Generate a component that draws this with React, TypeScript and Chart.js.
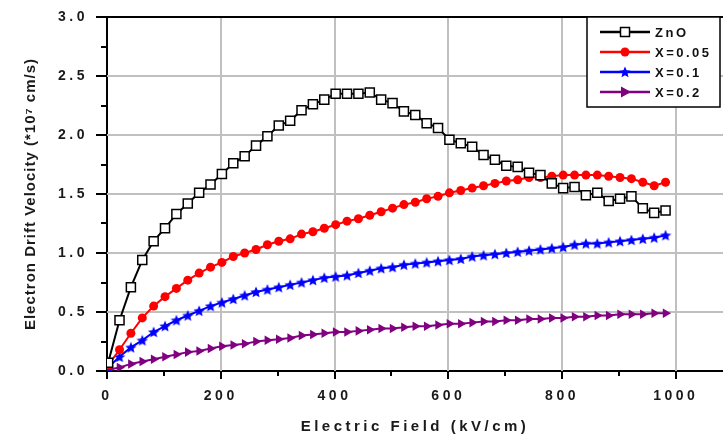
import React, { useEffect, useRef } from 'react';
import { Chart, registerables } from 'chart.js';

Chart.register(...registerables);

// ---- data ----
const fieldValues = [
  2, 22, 42, 62, 82, 102, 122, 142, 162, 182,
  202, 222, 242, 262, 282, 302, 322, 342, 362, 382,
  402, 422, 442, 462, 482, 502, 522, 542, 562, 582,
  602, 622, 642, 662, 682, 702, 722, 742, 762, 782,
  802, 822, 842, 862, 882, 902, 922, 942, 962, 982,
];
const znoValues = [
  0.07, 0.43, 0.71, 0.94, 1.10, 1.21, 1.33, 1.42, 1.51, 1.58,
  1.67, 1.76, 1.82, 1.91, 1.99, 2.08, 2.12, 2.21, 2.26, 2.30,
  2.35, 2.35, 2.35, 2.36, 2.30, 2.27, 2.20, 2.17, 2.10, 2.06,
  1.96, 1.93, 1.90, 1.83, 1.79, 1.74, 1.73, 1.68, 1.66, 1.59,
  1.55, 1.56, 1.49, 1.51, 1.44, 1.46, 1.48, 1.38, 1.34, 1.36,
];
const x005Values = [
  0.05, 0.18, 0.32, 0.45, 0.55, 0.63, 0.70, 0.77, 0.83, 0.88,
  0.92, 0.97, 1.00, 1.03, 1.07, 1.10, 1.12, 1.16, 1.18, 1.21,
  1.24, 1.27, 1.29, 1.32, 1.35, 1.38, 1.41, 1.43, 1.46, 1.48,
  1.51, 1.53, 1.55, 1.57, 1.59, 1.61, 1.62, 1.64, 1.64, 1.65,
  1.66, 1.66, 1.66, 1.66, 1.65, 1.64, 1.63, 1.60, 1.57, 1.60,
];
const x01Values = [
  0.03, 0.12, 0.20, 0.26, 0.33, 0.38, 0.43, 0.47, 0.51, 0.55,
  0.58, 0.61, 0.64, 0.67, 0.69, 0.71, 0.73, 0.75, 0.77, 0.79,
  0.80, 0.81, 0.83, 0.85, 0.87, 0.88, 0.90, 0.91, 0.92, 0.93,
  0.94, 0.95, 0.97, 0.98, 0.99, 1.00, 1.01, 1.02, 1.03, 1.04,
  1.05, 1.07, 1.08, 1.08, 1.09, 1.10, 1.11, 1.12, 1.13, 1.15,
];
const x02Values = [
  0.01, 0.03, 0.06, 0.08, 0.10, 0.12, 0.14, 0.16, 0.17, 0.19,
  0.21, 0.22, 0.23, 0.25, 0.26, 0.27, 0.28, 0.30, 0.31, 0.32,
  0.33, 0.33, 0.34, 0.35, 0.36, 0.36, 0.37, 0.38, 0.38, 0.39,
  0.40, 0.40, 0.41, 0.42, 0.42, 0.43, 0.43, 0.44, 0.44, 0.45,
  0.45, 0.46, 0.46, 0.47, 0.47, 0.48, 0.48, 0.48, 0.49, 0.49,
];
const seriesLabels = ['ZnO', 'X=0.05', 'X=0.1', 'X=0.2'];
const xMajorTicks = [0, 200, 400, 600, 800, 1000];
const xMinorTicks = [100, 300, 500, 700, 900];
const yMajorTicks = [0, 0.5, 1.0, 1.5, 2.0, 2.5, 3.0];
const yMinorTicks = [0.25, 0.75, 1.25, 1.75, 2.25, 2.75];
const xAxisTitle = 'Electric Field (kV/cm)';
const yAxisTitle = 'Electron Drift Velocity (*10\u2077 cm/s)';

const FONT = "Arial, 'Liberation Sans', sans-serif";
const COLORS = ['#000000', '#ff0000', '#0000ff', '#800080'];
const TICK_SPACING = '3.5px';
const GRID_COLOR = '#c0c0c0';

function makeStar(color: string, size: number): HTMLCanvasElement {
  const c = document.createElement('canvas');
  c.width = size;
  c.height = size;
  const g = c.getContext('2d')!;
  g.fillStyle = color;
  g.beginPath();
  const cx = size / 2, cy = size / 2 + 0.5, R = size / 2, r = R * 0.45;
  for (let k = 0; k < 10; k++) {
    const a = -Math.PI / 2 + (k * Math.PI) / 5;
    const rr = k % 2 === 0 ? R : r;
    g.lineTo(cx + rr * Math.cos(a), cy + rr * Math.sin(a));
  }
  g.closePath();
  g.fill();
  return c;
}

function drawMarker(ctx: CanvasRenderingContext2D, idx: number, x: number, y: number, star: HTMLCanvasElement) {
  ctx.save();
  if (idx === 0) {
    ctx.fillStyle = '#fff';
    ctx.strokeStyle = '#000';
    ctx.lineWidth = 1.5;
    ctx.fillRect(x - 4.5, y - 4.5, 9, 9);
    ctx.strokeRect(x - 4.5, y - 4.5, 9, 9);
  } else if (idx === 1) {
    ctx.fillStyle = COLORS[1];
    ctx.beginPath();
    ctx.arc(x, y, 4.5, 0, Math.PI * 2);
    ctx.fill();
  } else if (idx === 2) {
    ctx.drawImage(star, x - star.width / 2, y - star.height / 2);
  } else {
    ctx.fillStyle = COLORS[3];
    ctx.beginPath();
    ctx.moveTo(x + 6, y);
    ctx.lineTo(x - 4, y - 5.5);
    ctx.lineTo(x - 4, y + 5.5);
    ctx.closePath();
    ctx.fill();
  }
  ctx.restore();
}

export default function App() {
  const ref = useRef<HTMLCanvasElement | null>(null);

  useEffect(() => {
    document.body.style.margin = '0';
    const canvas = ref.current!;
    const star = makeStar(COLORS[2], 12);
    const seriesValues = [znoValues, x005Values, x01Values, x02Values];

    const wrapTitle = (scale: any, spacing: string) => {
      if (!scale || scale.__wrapped) return;
      const orig = scale.drawTitle.bind(scale);
      scale.drawTitle = function () {
        const c = scale.ctx as CanvasRenderingContext2D;
        const prev = (c as any).letterSpacing;
        (c as any).letterSpacing = spacing;
        orig();
        (c as any).letterSpacing = prev;
      };
      scale.__wrapped = true;
    };

    const framePlugin = {
      id: 'frameAndLegend',
      beforeUpdate(chart: any) {
        chart.ctx.letterSpacing = TICK_SPACING;
      },
      beforeLayout(chart: any) {
        chart.ctx.letterSpacing = TICK_SPACING;
      },
      afterLayout(chart: any) {
        // stretch the plot area to the right edge of the canvas
        const xs = chart.scales.x;
        const ca = chart.chartArea;
        const right = chart.width;
        ca.right = right;
        ca.width = right - ca.left;
        xs.right = right;
        xs.width = right - xs.left;
        xs.configure();
      },
      beforeDraw(chart: any) {
        chart.ctx.letterSpacing = TICK_SPACING;
        wrapTitle(chart.scales.x, '3.5px');
        wrapTitle(chart.scales.y, '1px');
      },
      beforeDatasetsDraw(chart: any) {
        const ctx: CanvasRenderingContext2D = chart.ctx;
        const { left, right, top, bottom } = chart.chartArea;
        const xs = chart.scales.x;
        const ys = chart.scales.y;
        ctx.save();
        ctx.strokeStyle = GRID_COLOR;
        ctx.lineWidth = 2;
        ctx.beginPath();
        xMajorTicks.slice(1).forEach((v) => {
          const p = Math.round(xs.getPixelForValue(v));
          ctx.moveTo(p, top);
          ctx.lineTo(p, bottom);
        });
        yMajorTicks.slice(1, -1).forEach((v) => {
          const p = Math.round(ys.getPixelForValue(v));
          ctx.moveTo(left, p);
          ctx.lineTo(right, p);
        });
        ctx.stroke();
        ctx.restore();
      },
      afterDraw(chart: any) {
        const ctx: CanvasRenderingContext2D = chart.ctx;
        const { left, right, top, bottom } = chart.chartArea;
        const xs = chart.scales.x;
        const ys = chart.scales.y;
        ctx.save();
        (ctx as any).letterSpacing = '0px';
        ctx.strokeStyle = '#000';
        ctx.lineWidth = 2;
        ctx.beginPath();
        ctx.moveTo(left, top);
        ctx.lineTo(right, top);
        xMajorTicks.forEach((v) => {
          const p = Math.round(xs.getPixelForValue(v));
          ctx.moveTo(p, bottom);
          ctx.lineTo(p, bottom + 8);
        });
        xMinorTicks.forEach((v) => {
          const p = Math.round(xs.getPixelForValue(v));
          ctx.moveTo(p, bottom);
          ctx.lineTo(p, bottom + 5);
        });
        yMajorTicks.forEach((v) => {
          const p = Math.round(ys.getPixelForValue(v));
          ctx.moveTo(left, p);
          ctx.lineTo(left - 11, p);
        });
        yMinorTicks.forEach((v) => {
          const p = Math.round(ys.getPixelForValue(v));
          ctx.moveTo(left, p);
          ctx.lineTo(left - 6, p);
        });
        ctx.stroke();

        // legend box
        const bx = 587, by = top, bw = 133, bh = 90;
        ctx.fillStyle = '#fff';
        ctx.fillRect(bx, by, bw, bh);
        ctx.lineWidth = 1.5;
        ctx.strokeRect(bx, by, bw, bh);
        seriesLabels.forEach((label, i) => {
          const ry = by + 15 + i * 20;
          ctx.strokeStyle = COLORS[i];
          ctx.lineWidth = 2.5;
          ctx.beginPath();
          ctx.moveTo(600, ry);
          ctx.lineTo(650, ry);
          ctx.stroke();
          drawMarker(ctx, i, 625, ry, star);
          ctx.fillStyle = '#111';
          ctx.font = `bold 13px ${FONT}`;
          (ctx as any).letterSpacing = '2.5px';
          ctx.textBaseline = 'middle';
          ctx.textAlign = 'left';
          ctx.fillText(label, 655, ry + 1);
          (ctx as any).letterSpacing = '0px';
        });
        ctx.restore();
      },
    };

    const chart = new Chart(canvas, {
      type: 'line',
      data: {
        datasets: seriesLabels.map((label, i) => ({
          label,
          data: fieldValues.map((x, k) => ({ x, y: seriesValues[i][k] })),
          borderColor: COLORS[i],
          borderWidth: 2,
          backgroundColor: i === 0 ? '#ffffff' : COLORS[i],
          pointBackgroundColor: i === 0 ? '#ffffff' : COLORS[i],
          pointBorderColor: COLORS[i],
          pointBorderWidth: i === 0 ? 1.5 : 0,
          pointStyle: i === 0 ? 'rect' : i === 1 ? 'circle' : i === 2 ? (star as any) : 'triangle',
          pointRotation: i === 3 ? 90 : 0,
          pointRadius: i === 0 ? 6.4 : i === 1 ? 4.5 : i === 2 ? 6 : 5.5,
          tension: 0,
          fill: false,
        })),
      },
      options: {
        responsive: false,
        animation: false,
        layout: { padding: { top: 17, right: 0, left: 0, bottom: 0 } },
        plugins: {
          legend: { display: false },
          tooltip: { enabled: false },
        },
        scales: {
          x: {
            type: 'linear',
            min: 0,
            max: 1083,
            afterBuildTicks: (scale: any) => {
              scale.ticks = xMajorTicks.map((v) => ({ value: v }));
            },
            afterFit: (scale: any) => {
              scale.height = 63;
              scale.paddingLeft = 0;
              scale.paddingRight = 0;
            },
            ticks: {
              callback: (v: any) => String(v),
              color: '#1a1a1a',
              font: { family: FONT, size: 14, weight: 'bold' },
              padding: 17,
              maxRotation: 0,
            },
            grid: { display: false, drawTicks: false },
            border: { display: true, color: '#000', width: 2 },
            title: {
              display: true,
              text: xAxisTitle,
              color: '#1a1a1a',
              font: { family: FONT, size: 15, weight: 'bold' },
              padding: { top: 0, bottom: -2 },
            },
          },
          y: {
            type: 'linear',
            min: 0,
            max: 3,
            afterBuildTicks: (scale: any) => {
              scale.ticks = yMajorTicks.map((v) => ({ value: v }));
            },
            afterFit: (scale: any) => {
              scale.width = 107;
              scale.paddingTop = 0;
              scale.paddingBottom = 0;
            },
            ticks: {
              callback: (v: any) => Number(v).toFixed(1),
              color: '#1a1a1a',
              font: { family: FONT, size: 14, weight: 'bold' },
              padding: 19,
            },
            grid: { display: false, drawTicks: false },
            border: { display: true, color: '#000', width: 2 },
            title: {
              display: true,
              text: yAxisTitle,
              color: '#1a1a1a',
              font: { family: FONT, size: 15, weight: 'bold' },
              padding: { top: 22, bottom: 0 },
            },
          },
        },
      },
      plugins: [framePlugin],
    } as any);

    return () => chart.destroy();
  }, []);

  return <canvas ref={ref} width={723} height={434} style={{ display: 'block' }} />;
}
